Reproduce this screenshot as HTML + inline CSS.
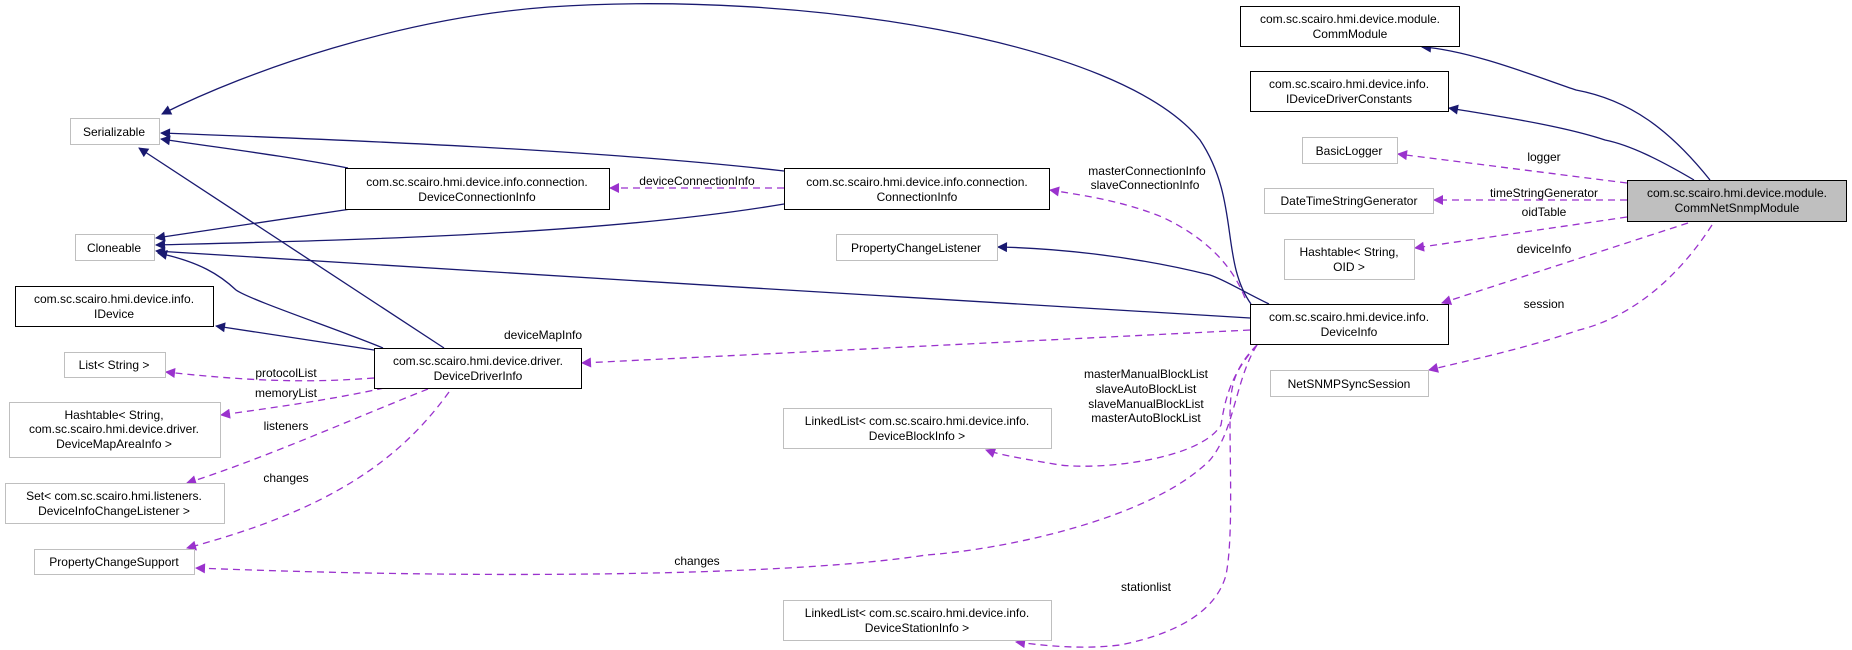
<!DOCTYPE html>
<html><head><meta charset="utf-8"><style>
html,body{margin:0;padding:0;background:#fff;}
svg{display:block;}
text{font-family:"Liberation Sans",sans-serif;font-size:12px;fill:#000;}
</style></head><body>
<svg width="1852" height="650" viewBox="0 0 1852 650" xmlns="http://www.w3.org/2000/svg">
<defs>
<marker id="n" viewBox="0 0 10 10" refX="9" refY="5" markerWidth="14" markerHeight="10" markerUnits="userSpaceOnUse" orient="auto"><path d="M0,0 L10,5 L0,10 z" fill="#191970"/></marker>
<marker id="p" viewBox="0 0 10 10" refX="9" refY="5" markerWidth="14" markerHeight="10" markerUnits="userSpaceOnUse" orient="auto"><path d="M0,0 L10,5 L0,10 z" fill="#9a32cd"/></marker>
</defs>
<g fill="none" stroke="#191970" stroke-width="1.3" marker-end="url(#n)">
<path d="M1251,304 C1220,260 1240,200 1200,140 C1120,40 800,-10 549,7 C400,18 250,70 162,114"/>
<path d="M784,171 C600,150 350,140 161,133"/>
<path d="M348,168 C280,155 220,148 161,139"/>
<path d="M444,348 L139,148"/>
<path d="M351,209 L156,238"/>
<path d="M784,204 C600,235 350,240 156,245"/>
<path d="M1250,318 C900,295 500,275 156,251"/>
<path d="M383,348 C340,330 250,300 236,290 C220,275 200,262 158,253"/>
<path d="M374,350 L216,326"/>
<path d="M1269,304 C1240,290 1225,280 1210,275 C1130,255 1050,248 998,247"/>
<path d="M1710,180 C1670,130 1630,100 1576,90 C1540,78 1470,50 1422,47"/>
<path d="M1694,180 C1660,160 1630,145 1605,140 C1560,125 1490,115 1449,108"/>
</g>
<g fill="none" stroke="#9a32cd" stroke-width="1.3" stroke-dasharray="7,5" marker-end="url(#p)">
<path d="M1627,183 L1398,154"/>
<path d="M1627,200 L1434,200"/>
<path d="M1627,217 L1415,248"/>
<path d="M1688,223 L1442,303"/>
<path d="M1712,225 C1670,290 1620,320 1579,330 C1520,350 1470,360 1429,370"/>
<path d="M1245,298 C1230,260 1200,235 1162,217 C1120,200 1080,195 1050,190"/>
<path d="M784,188 L610,188"/>
<path d="M1250,330 L582,363"/>
<path d="M374,378 C320,382 266,383 166,372"/>
<path d="M384,388 C330,400 270,408 221,415"/>
<path d="M428,389 C350,420 260,460 187,483"/>
<path d="M449,392 C400,460 330,510 187,548"/>
<path d="M1257,345 C1235,380 1235,430 1210,460 C1150,520 1000,550 926,555 C800,575 500,580 196,568"/>
<path d="M1257,345 C1230,375 1225,400 1221,425 C1200,460 1100,470 1060,465 C1030,460 1000,455 986,450"/>
<path d="M1257,345 C1232,370 1230,390 1230,420 C1230,470 1233,540 1226,575 C1215,615 1170,635 1120,645 C1080,650 1040,645 1016,642"/>
</g>
<g font-size="12">
<g stroke="#000" stroke-width="1" fill="#fff">
<rect x="345.5" y="168.5" width="264" height="41"/>
<rect x="784.5" y="168.5" width="265" height="41"/>
<rect x="15.5" y="286.5" width="198" height="40"/>
<rect x="1240.5" y="6.5" width="219" height="40"/>
<rect x="1250.5" y="71.5" width="198" height="40"/>
<rect x="1627.5" y="180.5" width="219" height="41" fill="#bfbfbf"/>
<rect x="1250.5" y="304.5" width="198" height="40"/>
<rect x="374.5" y="348.5" width="207" height="40"/>
</g>
<g stroke="#bfbfbf" stroke-width="1" fill="#fff">
<rect x="70.5" y="118.5" width="89" height="26"/>
<rect x="75.5" y="234.5" width="79" height="26"/>
<rect x="836.5" y="234.5" width="161" height="26"/>
<rect x="1302.5" y="137.5" width="95" height="26"/>
<rect x="1264.5" y="188.5" width="169" height="25"/>
<rect x="1284.5" y="239.5" width="130" height="40"/>
<rect x="64.5" y="352.5" width="101" height="25"/>
<rect x="9.5" y="402.5" width="211" height="55"/>
<rect x="5.5" y="483.5" width="219" height="40"/>
<rect x="34.5" y="549.5" width="160" height="25"/>
<rect x="783.5" y="408.5" width="268" height="40"/>
<rect x="783.5" y="600.5" width="268" height="40"/>
<rect x="1270.5" y="370.5" width="158" height="26"/>
</g>
<g text-anchor="middle">
<text x="114" y="136">Serializable</text>
<text x="114" y="252">Cloneable</text>
<text x="916" y="252">PropertyChangeListener</text>
<text x="1349" y="155">BasicLogger</text>
<text x="1349" y="205">DateTimeStringGenerator</text>
<text x="1349" y="256">Hashtable&lt; String,</text><text x="1349" y="271">OID &gt;</text>
<text x="114" y="369">List&lt; String &gt;</text>
<text x="114" y="419">Hashtable&lt; String,</text><text x="114" y="433">com.sc.scairo.hmi.device.driver.</text><text x="114" y="448">DeviceMapAreaInfo &gt;</text>
<text x="114" y="500">Set&lt; com.sc.scairo.hmi.listeners.</text><text x="114" y="515">DeviceInfoChangeListener &gt;</text>
<text x="114" y="566">PropertyChangeSupport</text>
<text x="917" y="425">LinkedList&lt; com.sc.scairo.hmi.device.info.</text><text x="917" y="440">DeviceBlockInfo &gt;</text>
<text x="917" y="617">LinkedList&lt; com.sc.scairo.hmi.device.info.</text><text x="917" y="632">DeviceStationInfo &gt;</text>
<text x="1349" y="388">NetSNMPSyncSession</text>
<text x="477" y="186">com.sc.scairo.hmi.device.info.connection.</text><text x="477" y="201">DeviceConnectionInfo</text>
<text x="917" y="186">com.sc.scairo.hmi.device.info.connection.</text><text x="917" y="201">ConnectionInfo</text>
<text x="114" y="303">com.sc.scairo.hmi.device.info.</text><text x="114" y="318">IDevice</text>
<text x="1350" y="23">com.sc.scairo.hmi.device.module.</text><text x="1350" y="38">CommModule</text>
<text x="1349" y="88">com.sc.scairo.hmi.device.info.</text><text x="1349" y="103">IDeviceDriverConstants</text>
<text x="1737" y="197">com.sc.scairo.hmi.device.module.</text><text x="1737" y="212">CommNetSnmpModule</text>
<text x="1349" y="321">com.sc.scairo.hmi.device.info.</text><text x="1349" y="336">DeviceInfo</text>
<text x="478" y="365">com.sc.scairo.hmi.device.driver.</text><text x="478" y="380">DeviceDriverInfo</text>
<text x="1544" y="161">logger</text>
<text x="1544" y="197">timeStringGenerator</text>
<text x="1544" y="216">oidTable</text>
<text x="1544" y="253">deviceInfo</text>
<text x="1544" y="308">session</text>
<text x="1147" y="175">masterConnectionInfo</text>
<text x="1145" y="189">slaveConnectionInfo</text>
<text x="697" y="185">deviceConnectionInfo</text>
<text x="543" y="339">deviceMapInfo</text>
<text x="286" y="377">protocolList</text>
<text x="286" y="397">memoryList</text>
<text x="286" y="430">listeners</text>
<text x="286" y="482">changes</text>
<text x="697" y="565">changes</text>
<text x="1146" y="378">masterManualBlockList</text>
<text x="1146" y="393">slaveAutoBlockList</text>
<text x="1146" y="408">slaveManualBlockList</text>
<text x="1146" y="422">masterAutoBlockList</text>
<text x="1146" y="591">stationlist</text>
</g>
</g>
</svg>
</body></html>
